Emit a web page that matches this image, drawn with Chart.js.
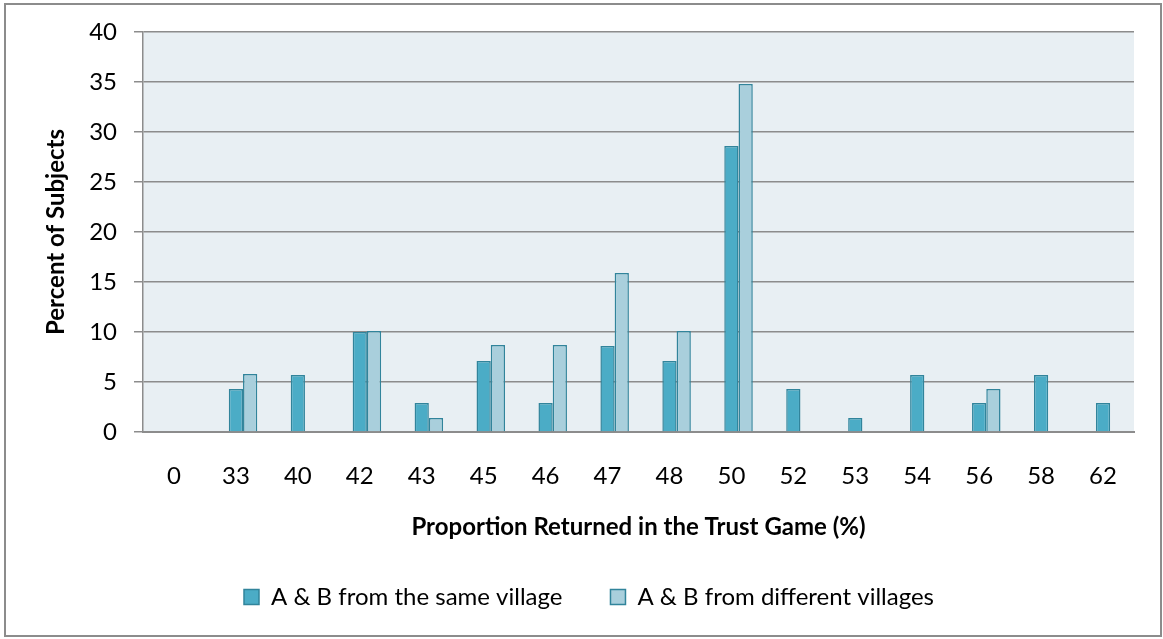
<!DOCTYPE html>
<html>
<head>
<meta charset="utf-8">
<script src="https://cdn.jsdelivr.net/npm/chart.js@4"></script>
<style>
  html, body { margin: 0; padding: 0; background: #fff; }
  #wrap { position: relative; width: 1163px; height: 639px; }
  #frame { position: absolute; left: 4px; top: 3px; width: 1154px; height: 630px; border: 2px solid #8c8c8c; box-sizing: content-box; pointer-events: none; }
  canvas { position: absolute; left: 0; top: 0; }
</style>
</head>
<body>
<div id="wrap">
  <canvas id="chart" width="1163" height="639"></canvas>
  <div id="frame"></div>
</div>
<script>
// categories = proportion returned (%)
const categories = ['0', '33', '40', '42', '43', '45', '46', '47', '48', '50', '52', '53', '54', '56', '58', '62'];
const sameVillage = [0, 4.3, 5.7, 10, 2.9, 7.1, 2.9, 8.6, 7.1, 28.6, 4.3, 1.4, 5.7, 2.9, 5.7, 2.9];
const diffVillages = [0, 5.8, 0, 10.1, 1.4, 8.7, 8.7, 15.9, 10.1, 34.8, 0, 0, 0, 4.3, 0, 0];
const emptySlot = categories.map(() => null); // keeps the dark bar centred on its label, as in the original
const yTicks = [0, 5, 10, 15, 20, 25, 30, 35, 40];

const FONT = 'Lato, "Open Sans", sans-serif';

// light blue-grey fill behind the plot area
const plotBg = {
  id: 'plotBg',
  beforeDraw(chart) {
    const { ctx, chartArea: a } = chart;
    ctx.save();
    ctx.fillStyle = '#e8eff3';
    ctx.fillRect(a.left, a.top, a.right - a.left, a.bottom - a.top);
    ctx.restore();
  }
};

new Chart(document.getElementById('chart'), {
  type: 'bar',
  data: {
    labels: categories,
    datasets: [
      { label: '', data: emptySlot, backgroundColor: 'rgba(0,0,0,0)' },
      {
        label: 'A & B from the same village',
        data: sameVillage,
        backgroundColor: '#4bacc6',
        borderColor: '#31849b',
        borderWidth: 1.5
      },
      {
        label: 'A & B from different villages',
        data: diffVillages,
        backgroundColor: '#a9cfdc',
        borderColor: '#31849b',
        borderWidth: 1.5
      }
    ]
  },
  options: {
    responsive: false,
    animation: false,
    layout: { padding: { top: 32, right: 29, bottom: 20, left: 44 } },
    datasets: { bar: { categoryPercentage: 0.69, barPercentage: 1 } },
    scales: {
      x: {
        grid: { display: false, drawTicks: false },
        border: { color: '#8c8c8c', width: 2 },
        ticks: { color: '#000', font: { family: FONT, size: 24 }, padding: 30, maxRotation: 0 },
        title: {
          display: true, text: 'Proportion Returned in the Trust Game (%)',
          color: '#000', font: { family: FONT, size: 24, weight: 'bold', lineHeight: 0.8 }, padding: 0
        },
        afterFit: s => { s.height = 105; }
      },
      y: {
        min: 0, max: 40,
        afterBuildTicks: s => { s.ticks = yTicks.map(v => ({ value: v })); },
        grid: { color: '#8c8c8c', lineWidth: 1.5, tickLength: 9 },
        border: { color: '#8c8c8c', width: 1.5 },
        ticks: { color: '#000', font: { family: FONT, size: 24 }, padding: 17 },
        title: {
          display: true, text: 'Percent of Subjects',
          color: '#000', font: { family: FONT, size: 24, weight: 'bold', lineHeight: 1 }, padding: 0
        },
        afterFit: s => { s.width = 99; }
      }
    },
    plugins: {
      legend: {
        position: 'bottom',
        labels: {
          color: '#000', font: { family: FONT, size: 24 },
          boxWidth: 15, boxHeight: 15, padding: 48,
          filter: item => item.text !== ''
        }
      },
      tooltip: { enabled: false }
    }
  },
  plugins: [plotBg]
});
</script>
</body>
</html>
